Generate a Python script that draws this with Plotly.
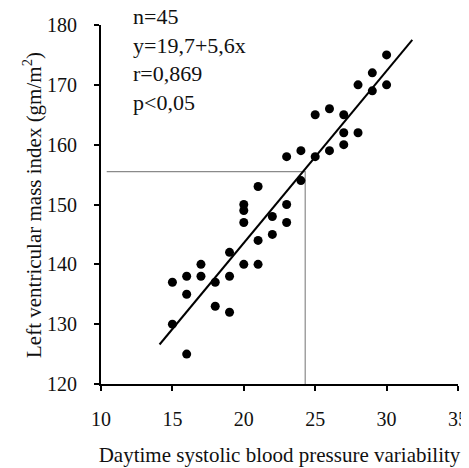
import plotly.graph_objects as go

# Scatter data
variability = [15, 15, 16, 16, 16, 17, 17, 18, 18, 19, 19, 19,
               20, 20, 20, 20, 21, 21, 21, 22, 22, 23, 23, 23,
               24, 24, 25, 25, 26, 26, 27, 27, 27, 28, 28, 29, 29, 30, 30]
lvmi = [137, 130, 138, 135, 125, 140, 138, 137, 133, 142, 138, 132,
        150, 149, 147, 140, 153, 144, 140, 148, 145, 150, 147, 158,
        159, 154, 158, 165, 166, 159, 165, 162, 160, 162, 170, 172, 169, 175, 170]

# regression line end points
fit_x = [14.1, 31.8]
fit_y = [126.6, 177.5]

# guide lines to the value at x = 24.3
guide_x = [10.4, 24.3, 24.3]
guide_y = [155.5, 155.5, 120]

stats_text = ["n=45", "y=19,7+5,6x", "r=0,869", "p<0,05"]

x_ticks = [10, 15, 20, 25, 30, 35]
y_ticks = [120, 130, 140, 150, 160, 170, 180]

font = "Liberation Serif, Times New Roman, serif"
ink = "#111111"

fig = go.Figure()

fig.add_trace(go.Scatter(x=guide_x, y=guide_y, mode="lines",
                         line=dict(color="#8a8a8a", width=1.2),
                         hoverinfo="skip", showlegend=False))

fig.add_trace(go.Scatter(x=fit_x, y=fit_y, mode="lines",
                         line=dict(color="black", width=2),
                         showlegend=False))

fig.add_trace(go.Scatter(x=variability, y=lvmi, mode="markers",
                         marker=dict(color="black", size=9),
                         showlegend=False))

fig.add_annotation(text="<br>".join(stats_text),
                   xref="paper", yref="paper", x=0.085, y=1.064,
                   xanchor="left", yanchor="top", align="left",
                   showarrow=False,
                   font=dict(family=font, size=22, color=ink))

# y title as a rotated annotation so it sits where the original has it
fig.add_annotation(text="Left ventricular mass index (gm/m<sup>2</sup>)",
                   xref="paper", yref="paper", x=-0.192, y=0.5,
                   xanchor="center", yanchor="middle", textangle=-90,
                   showarrow=False,
                   font=dict(family=font, size=21, color=ink))

fig.update_xaxes(range=[10, 35], tickvals=x_ticks, automargin=False,
                 showgrid=False, zeroline=False,
                 showline=True, linecolor="black", linewidth=2,
                 ticks="outside", ticklen=5, tickwidth=1.5, tickcolor="black",
                 ticklabelstandoff=11,
                 tickfont=dict(family=font, size=20, color=ink),
                 title=dict(text="Daytime systolic blood pressure variability",
                            font=dict(family=font, size=21, color=ink),
                            standoff=18))

fig.update_yaxes(range=[120, 180], tickvals=y_ticks, automargin=False,
                 showgrid=False, zeroline=False,
                 showline=True, linecolor="black", linewidth=2,
                 ticks="outside", ticklen=5, tickwidth=1.5, tickcolor="black",
                 ticklabelstandoff=13,
                 tickfont=dict(family=font, size=20, color=ink))

# the page body adds an 8px margin, so the figure is a little smaller than the window
fig.update_layout(width=461, height=460,
                  margin=dict(l=93, r=11, t=17, b=84),
                  plot_bgcolor="white", paper_bgcolor="white")

fig.write_html("out.html")
